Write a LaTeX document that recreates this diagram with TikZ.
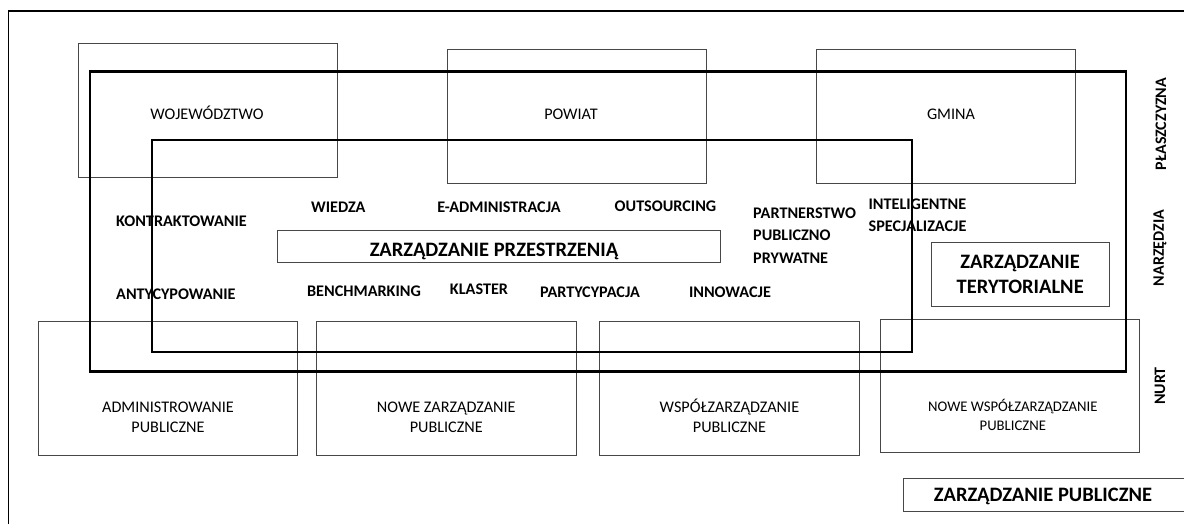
\documentclass[tikz,border=0pt]{standalone}
\usepackage{fontspec}
\setmainfont{Carlito}
\begin{document}
\begin{tikzpicture}[x=1pt,y=-1pt,
  thinbox/.style={draw=black!72,line width=1pt,inner sep=0pt,outer sep=0pt},
  lbl/.style={font=\fontsize{16.2}{20}\selectfont,align=center,inner sep=0pt},
  one/.style={text height=10.4pt,text depth=0pt},
  thickframe/.style={draw=black,line width=2.4pt,inner sep=0pt,outer sep=0pt},
  tool/.style={font=\fontsize{16.2}{22.3}\selectfont\bfseries,inner sep=0pt,align=left},
  bigbox/.style={draw=black!72,line width=1pt,inner sep=0pt,outer sep=0pt},
  bigtext/.style={font=\fontsize{20.5}{25}\selectfont\bfseries,align=center,inner sep=0pt},
  side/.style={font=\fontsize{16}{18}\selectfont\bfseries,rotate=90,inner sep=0pt}]
\useasboundingbox (0,0) rectangle (1184,524);
% outer frame
\coordinate (fTL) at (8.3,11);
\coordinate (fTR) at (1190,11);
\coordinate (fBL) at (8.3,530);
\draw[line width=1.3pt] (fTR) -- (fTL) -- (fBL);
% level boxes
\node[thinbox,minimum width=259pt,minimum height=134pt] (woj) at (208,111) {};
\node[lbl,one] (wojt) at (207,114) {WOJEWÓDZTWO};
\node[thinbox,minimum width=259pt,minimum height=134pt] (pow) at (576.5,116.3) {};
\node[lbl,one] (powt) at (571,114) {POWIAT};
\node[thinbox,minimum width=259pt,minimum height=134pt] (gmi) at (945.5,116.3) {};
\node[lbl,one] (gmit) at (951,114) {GMINA};
% stream boxes
\node[thinbox,minimum width=259.4pt,minimum height=134pt] (adm) at (168,388) {};
\node[lbl] (admt) at (168,418) {\strut ADMINISTROWANIE\\PUBLICZNE\strut};
\node[thinbox,minimum width=259.5pt,minimum height=134pt] (nzp) at (446.3,388) {};
\node[lbl] (nzpt) at (446.3,418) {\strut NOWE ZARZĄDZANIE\\PUBLICZNE\strut};
\node[thinbox,minimum width=259.8pt,minimum height=134pt] (wsp) at (729.4,388) {};
\node[lbl] (wspt) at (729.4,418) {\strut WSPÓŁZARZĄDZANIE\\PUBLICZNE\strut};
\node[thinbox,minimum width=259pt,minimum height=133.5pt] (nwsp) at (1009.5,385.8) {};
\node[lbl,font=\fontsize{14.7}{19.5}\selectfont] (nwspt) at (1012.8,417.3) {\strut NOWE WSPÓŁZARZĄDZANIE\\PUBLICZNE\strut};
% thick frames
\node[thickframe,minimum width=1036pt,minimum height=300pt] (f1) at (608,221.6) {};
\node[thickframe,minimum width=760pt,minimum height=212pt] (f2) at (532,246) {};
% big boxes
\node[bigbox,minimum width=443.5pt,minimum height=32.5pt] (zp) at (499,246.5) {};
\node[bigtext,text height=13.2pt,text depth=0pt] (zpt) at (494,250) {ZARZĄDZANIE PRZESTRZENIĄ};
\node[bigbox,minimum width=178.3pt,minimum height=64pt] (zt) at (1020.2,274.2) {};
\node[bigtext] (ztt) at (1020.2,275.8) {\strut ZARZĄDZANIE\\TERYTORIALNE\strut};
\node[bigbox,minimum width=290pt,minimum height=33.4pt] (zpub) at (1048,495) {};
\node[bigtext,text height=13.2pt,text depth=0pt] (zpubt) at (1043,495) {ZARZĄDZANIE PUBLICZNE};
% tools
\node[tool,one,anchor=west] (kon) at (116,221.7) {KONTRAKTOWANIE};
\node[tool,one] (wie) at (338.3,207) {WIEDZA};
\node[tool,one] (ead) at (499,207) {E-ADMINISTRACJA};
\node[tool,one] (out) at (665.5,206) {OUTSOURCING};
\node[tool,anchor=west] (ppp) at (753,236.3) {\strut PARTNERSTWO\\PUBLICZNO\\PRYWATNE\strut};
\node[tool,anchor=west] (int) at (868.4,215.9) {\strut INTELIGENTNE\\SPECJALIZACJE\strut};
\node[tool,one,anchor=west] (ant) at (116,294.3) {ANTYCYPOWANIE};
\node[tool,one] (ben) at (364,291.7) {BENCHMARKING};
\node[tool,one] (kla) at (479,289.3) {KLASTER};
\node[tool,one] (par) at (590,292) {PARTYCYPACJA};
\node[tool,one] (inn) at (730,292.3) {INNOWACJE};
% side labels
\node[side] (pl) at (1161,124) {PŁASZCZYZNA};
\node[side] (na) at (1160,248) {NARZĘDZIA};
\node[side] (nu) at (1160,386) {NURT};
\end{tikzpicture}
\end{document}
